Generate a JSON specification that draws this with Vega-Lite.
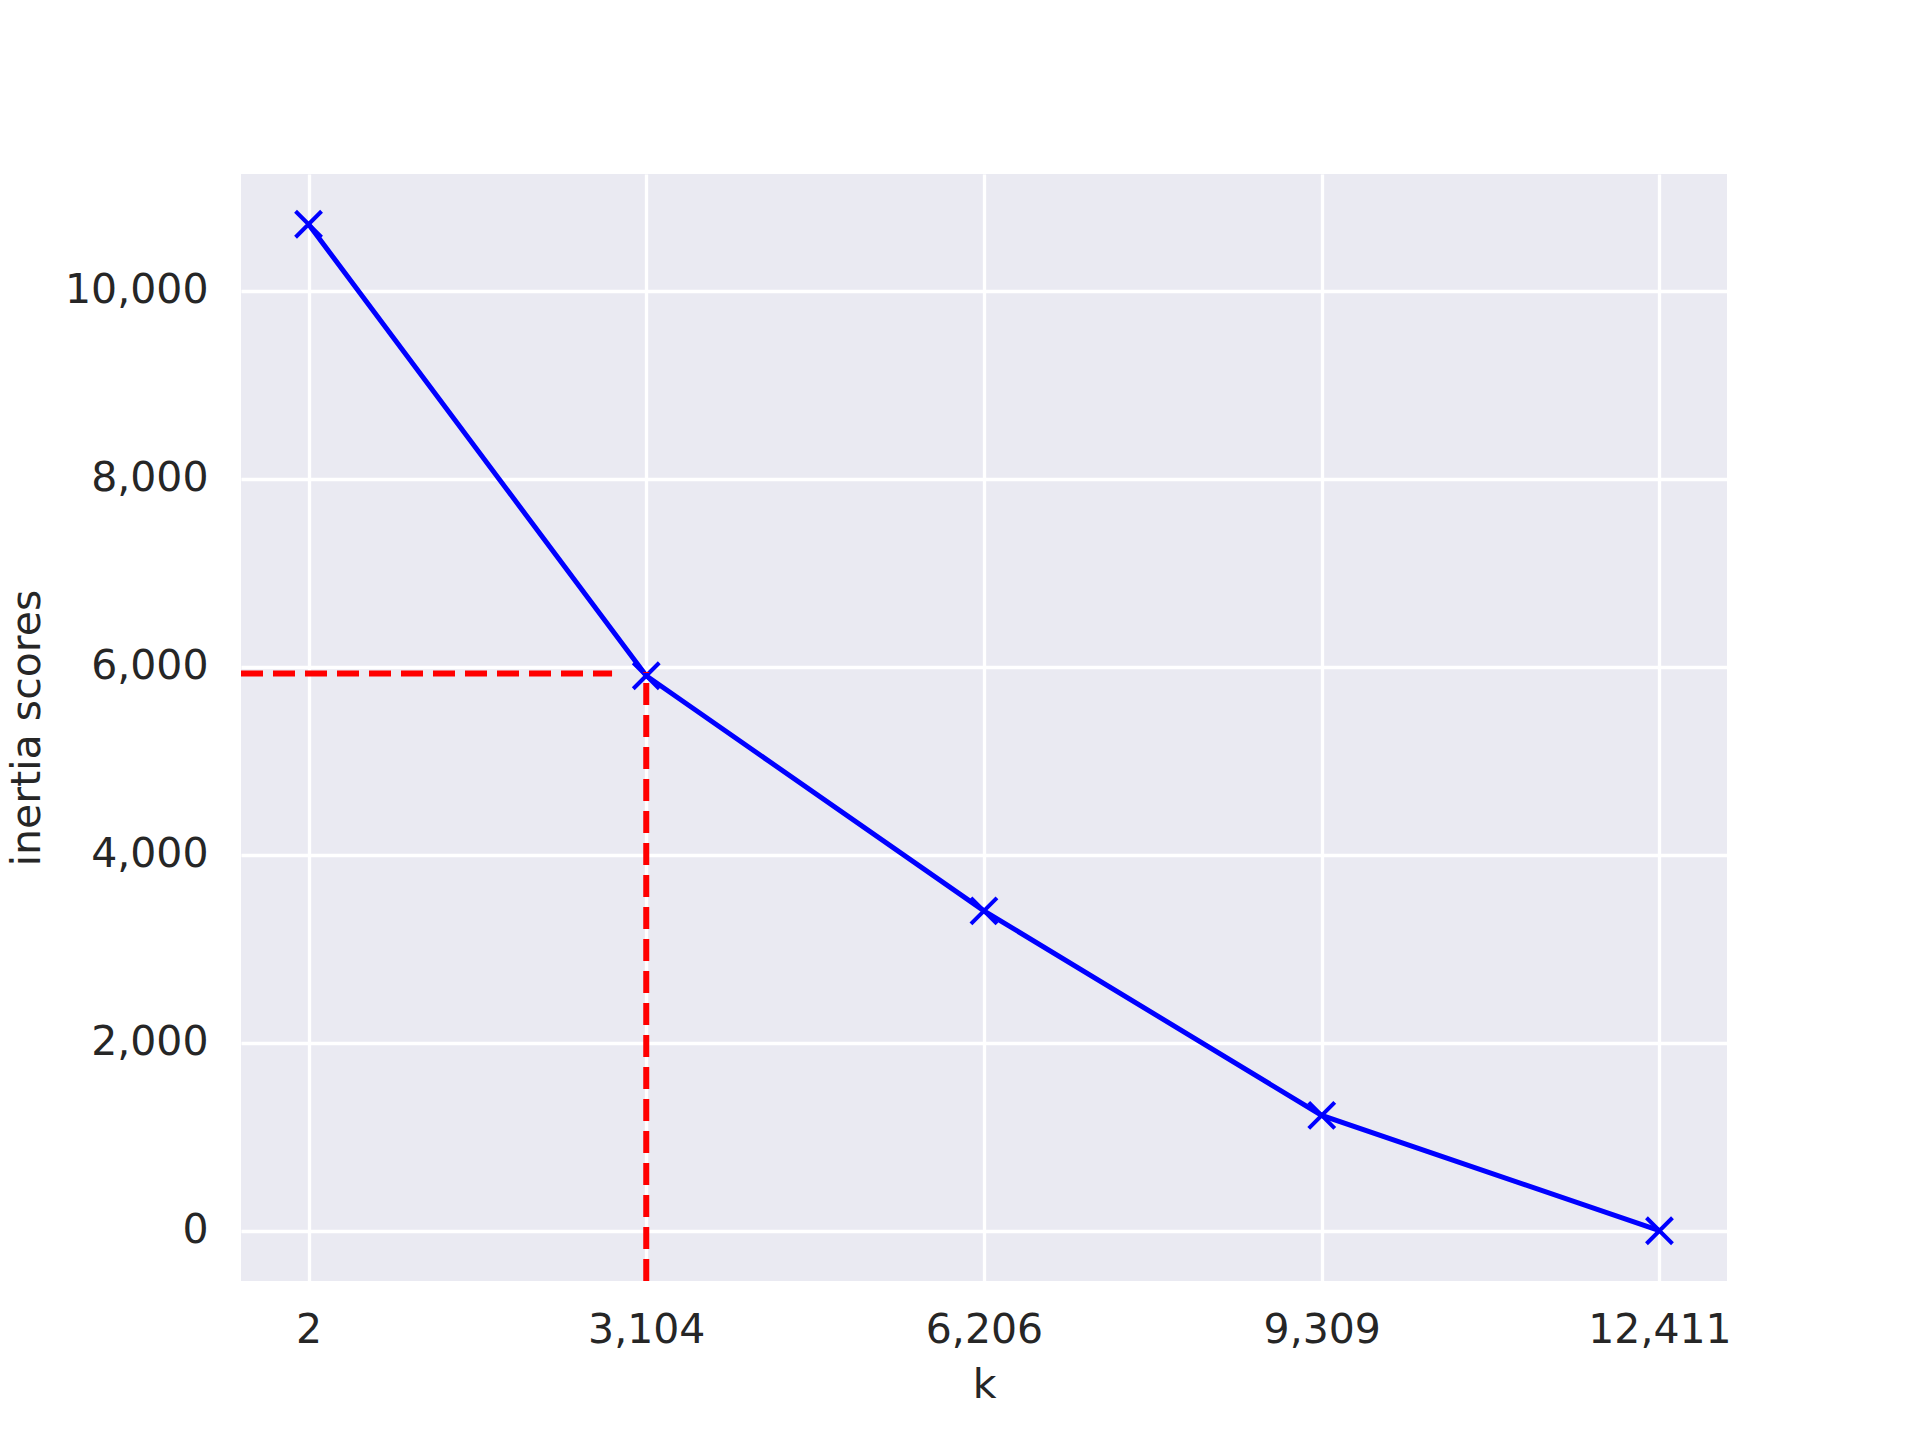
{
  "$schema": "https://vega.github.io/schema/vega-lite/v6.json",
  "width": 1486,
  "height": 1107,
  "autosize": {"type": "none"},
  "padding": {"left": 241, "top": 174, "right": 193, "bottom": 159},
  "background": "white",
  "config": {
    "view": {"fill": "#EAEAF2", "stroke": null},
    "font": "DejaVu Sans",
    "axis": {
      "domain": false,
      "ticks": false,
      "tickSize": 0,
      "grid": true,
      "gridColor": "white",
      "gridWidth": 3.3,
      "labelFont": "DejaVu Sans",
      "labelFontSize": 41,
      "labelColor": "#262626",
      "titleFont": "DejaVu Sans",
      "titleFontSize": 41,
      "titleColor": "#262626",
      "titleFontWeight": "normal"
    }
  },
  "datasets": {
    "scores": [
      {"k": 2, "inertia": 10709},
      {"k": 3104, "inertia": 5905},
      {"k": 6206, "inertia": 3404},
      {"k": 9309, "inertia": 1227},
      {"k": 12411, "inertia": 0}
    ],
    "hline": [{"x1": -618.45, "x2": 2790, "y": 5930}],
    "vline": [{"x": 3104, "y1": -535, "y2": 5945}]
  },
  "layer": [
    {
      "data": {"name": "scores"},
      "mark": {"type": "line", "color": "#0000FF", "strokeWidth": 5},
      "encoding": {
        "x": {
          "field": "k",
          "type": "quantitative",
          "scale": {"domain": [-618.45, 13031.45], "nice": false, "zero": false},
          "axis": {"values": [2, 3104, 6206, 9309, 12411], "format": ",d", "title": "k", "labelPadding": 29, "titlePadding": 15, "labelFlush": false, "labelOverlap": false}
        },
        "y": {
          "field": "inertia",
          "type": "quantitative",
          "scale": {"domain": [-535, 11244], "nice": false, "zero": false},
          "axis": {"values": [0, 2000, 4000, 6000, 8000, 10000], "format": ",d", "title": "inertia scores", "labelPadding": 33, "titlePadding": 16, "labelFlush": false, "labelOverlap": false}
        }
      }
    },
    {
      "data": {"name": "scores"},
      "mark": {
        "type": "point",
        "shape": "M-1,-1L1,1M-1,1L1,-1",
        "filled": false,
        "stroke": "#0000FF",
        "strokeWidth": 4,
        "size": 676,
        "opacity": 1
      },
      "encoding": {
        "x": {"field": "k", "type": "quantitative"},
        "y": {"field": "inertia", "type": "quantitative"}
      }
    },
    {
      "data": {"name": "hline"},
      "mark": {"type": "rule", "color": "#FF0000", "strokeWidth": 6, "strokeDash": [22, 10]},
      "encoding": {
        "x": {"field": "x1", "type": "quantitative"},
        "x2": {"field": "x2"},
        "y": {"field": "y", "type": "quantitative"}
      }
    },
    {
      "data": {"name": "vline"},
      "mark": {"type": "rule", "color": "#FF0000", "strokeWidth": 6, "strokeDash": [22, 10]},
      "encoding": {
        "x": {"field": "x", "type": "quantitative"},
        "y": {"field": "y1", "type": "quantitative"},
        "y2": {"field": "y2"}
      }
    }
  ]
}
